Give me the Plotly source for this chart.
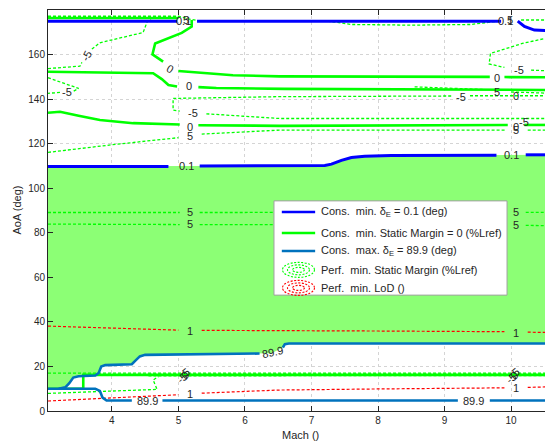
import plotly.graph_objects as go

N = None
# ---------------- data (Mach, AoA) ----------------
# Cons. min delta_E = 0.1 (deg)
dmin_top_M = [3.04, 4.98, N, 5.28, 9.85, N, 10.1, 10.2, 10.35, 10.63]
dmin_top_A = [175.0, 175.0, N, 175.0, 175.0, N, 175.0, 172.6, 171.0, 170.6]
dmin_low_M = [3.04, 4.85, N, 5.32, 7.2, 7.3, 7.45, 7.6, 7.8, 8.2, 9.78, N, 10.22, 10.63]
dmin_low_A = [109.8, 109.8, N, 110.0, 110.2, 110.8, 112.5, 113.8, 114.4, 114.7, 114.8, N, 115.0, 115.0]
dmin_labels = [(5.12, 110.0, "0.1", 0), (10.0, 114.9, "0.1", 0)]

# Cons. max delta_E = 89.9 (deg)
dmax_up_M = [3.2, 3.3, 3.36, 3.42, 3.5, 3.75, 3.8, 3.84, 3.9, 4.3, 4.35, 4.42, 4.5, 6.22, N, 6.57, 6.6, 6.66, 10.63]
dmax_up_A = [10.0, 10.6, 12.5, 15.0, 15.6, 15.9, 17.0, 20.0, 20.6, 21.0, 22.5, 24.5, 25.2, 25.8, N, 28.5, 30.0, 30.3, 30.3]
dmax_lo_M = [3.04, 3.75, 3.82, 3.86, 3.92, 4.3, N, 4.76, 9.2, N, 9.68, 10.63]
dmax_lo_A = [10.0, 10.0, 9.0, 6.0, 4.7, 4.7, N, 4.7, 4.7, N, 4.7, 4.7]
dmax_labels = [(4.53, 4.7, "89.9", 0), (9.44, 4.7, "89.9", 0), (6.42, 26.6, "89.9", -12)]

# Cons. min Static Margin = 0 (%Lref)
sm0_a_M = [3.04, 5.0]
sm0_a_A = [176.4, 176.4]
sm0_b_M = [5.2, 5.2, 5.05, 4.65, 4.61, 4.77, N, 5.0, 5.12, 5.82, 6.52, 9.68, N, 9.9, 10.63]
sm0_b_A = [175.5, 172.6, 169.7, 165.0, 160.1, 156.8, N, 152.6, 152.3, 150.7, 150.2, 150.0, N, 149.9, 149.8]
sm0_c_M = [3.04, 4.62, 4.75, 4.85, 4.98, N, 5.3, 5.57, 6.6, 8.0, 10.63]
sm0_c_A = [152.3, 151.6, 149.0, 146.3, 145.7, N, 145.4, 145.0, 144.6, 144.4, 144.1]
sm0_d_M = [3.04, 3.22, 3.5, 3.82, 4.32, 5.02, N, 5.3, 6.52, 9.95, N, 10.2, 10.63]
sm0_d_A = [133.9, 134.3, 132.5, 130.6, 129.2, 128.6, N, 128.3, 128.0, 128.4, N, 128.4, 128.4]
sm0_e_M = [10.63, 3.57, 3.57, 3.04]
sm0_e_A = [16.2, 16.2, 10.0, 10.0]
sm0_labels = [(4.88, 153.4, "0", 30), (5.16, 146.0, "0", 0), (5.17, 127.3, "0", 0),
              (9.79, 149.7, "0", 0), (10.07, 141.6, "0", 0), (10.07, 127.6, "0", 0)]

# Perf. min. Static Margin (%Lref) contours
psm_M = [
    [3.04, 5.0, 5.15, 5.3, 7.2, 7.6, 8.5, 9.4, 9.8, N, 10.15, 10.63],
    [3.04, 3.52, 3.55, N, 3.7, 3.82, 4.47, 4.53, 4.6],
    [3.04, 3.5, 3.42, N, 3.22, 3.04],
    [10.63, 9.38, N, 9.1, 6.52, 4.92, 4.92, 5.02, N, 5.42, 6.52, 10.63],
    [8.55, 9.6, N, 10.0, 10.63],
    [3.04, 4.0, 5.0, N, 5.35, 6.52, 9.92, N, 10.25, 10.63],
    [10.63, 10.17, 9.69, 9.67, 9.9, N, 10.3, 10.63],
    [3.04, 5.02, N, 5.32, 9.92, N, 10.22, 10.63],
    [3.04, 5.02, N, 5.32, 9.92, N, 10.22, 10.63],
    [3.04, 10.63],
    [4.55, 10.63],
    [4.55, 10.63],
    [3.04, 4.68, 4.62, 4.7],
]
psm_A = [
    [177.2, 177.2, 176.0, 175.2, 175.2, 173.5, 173.2, 173.5, 175.0, N, 175.5, 175.5],
    [153.7, 154.8, 156.5, N, 162.5, 165.3, 169.9, 174.7, 176.5],
    [149.6, 144.8, 143.5, N, 143.0, 142.6],
    [141.5, 141.5, N, 141.4, 141.1, 140.3, 135.1, 134.6, N, 133.4, 131.3, 131.3],
    [145.5, 144.3, N, 143.2, 142.6],
    [116.1, 119.5, 122.7, N, 124.3, 126.1, 126.1, N, 126.1, 126.1],
    [168.0, 165.0, 160.5, 155.8, 154.2, N, 153.0, 152.6],
    [89.1, 89.1, N, 89.1, 89.2, N, 89.2, 89.2],
    [83.9, 83.7, N, 83.7, 83.4, N, 83.3, 83.2],
    [17.0, 17.0],
    [16.5, 16.6],
    [15.8, 15.9],
    [7.9, 9.7, 13.9, 15.5],
]
psm_labels = [(3.62, 159.3, "-5", -62), (3.32, 143.2, "-5", 0), (5.22, 133.8, "-5", 0),
              (9.24, 141.0, "-5", 0), (9.79, 143.3, "5", 0), (10.12, 153.2, "-5", 0),
              (10.2, 129.6, "-5", 0), (5.17, 123.6, "5", 0), (10.07, 126.2, "5", 0),
              (5.17, 89.4, "5", 0), (5.17, 84.0, "5", 0), (10.07, 89.3, "5", 0),
              (10.07, 83.3, "5", 0),
              (5.12, 17.4, "5", -40), (5.1, 16.2, "0", -40), (5.05, 15.0, "-5", -40),
              (10.07, 17.4, "5", -40), (10.05, 16.2, "0", -40), (10.0, 15.0, "-5", -40),
              (5.12, 175.3, "5", 0), (9.98, 175.3, "5", 0)]
top_labels = [(5.08, 175.2, "0.1", 0), (9.92, 175.2, "0.1", 0)]

# Perf. min. LoD () contours
lod_M = [[3.04, 4.0, 5.0, N, 5.35, 6.5, 8.0, 9.9, N, 10.25, 10.63],
         [3.04, 4.0, 5.0, N, 5.35, 6.5, 8.0, 9.9, N, 10.25, 10.63]]
lod_A = [[38.1, 37.2, 36.3, N, 36.2, 36.2, 35.9, 35.6, N, 35.4, 35.2],
         [4.5, 6.0, 7.3, N, 8.0, 9.4, 9.9, 10.4, N, 10.6, 10.9]]
lod_labels = [(5.17, 35.8, "1", 0), (10.07, 35.2, "1", 0), (5.17, 7.6, "1", 0), (10.07, 10.2, "1", 0)]

# Feasible region (between min-delta 0.1 and max-delta 89.9 boundaries)
feas_top_M = [3.04, 7.2, 7.3, 7.45, 7.6, 7.8, 8.2, 10.63]
feas_top_A = [109.8, 110.2, 110.8, 112.5, 113.8, 114.4, 114.7, 115.0]
feas_bot_M = [10.63, 6.66, 6.6, 6.57, 6.4, 4.5, 4.42, 4.35, 4.3, 3.9, 3.84, 3.8, 3.75, 3.5, 3.42, 3.36, 3.3, 3.2, 3.04]
feas_bot_A = [30.3, 30.3, 30.0, 28.5, 25.9, 25.2, 24.5, 22.5, 21.0, 20.6, 20.0, 17.0, 15.9, 15.6, 15.0, 12.5, 10.6, 10.0, 10.0]

x_ticks = [4, 5, 6, 7, 8, 9, 10]
y_ticks = [0, 20, 40, 60, 80, 100, 120, 140, 160, 180]

# ---------------- figure ----------------
FONT = "Arial, 'Liberation Sans', Helvetica, sans-serif"
GREEN = "#00FF00"
BLUE = "#0000FF"
MBLUE = "#0072BD"
RED = "#FF0000"
FILL = "#8CFF75"
TXT = "#262626"

fig = go.Figure()
fig.add_trace(go.Scatter(x=feas_top_M + feas_bot_M, y=feas_top_A + feas_bot_A, mode="lines",
                         fill="toself", fillcolor=FILL, line=dict(width=0), hoverinfo="skip"))

for mx, ay in zip(lod_M, lod_A):
    fig.add_trace(go.Scatter(x=mx, y=ay, mode="lines", line=dict(color=RED, width=1.2, dash="3px,2px")))
for mx, ay in zip(psm_M, psm_A):
    fig.add_trace(go.Scatter(x=mx, y=ay, mode="lines", line=dict(color=GREEN, width=1.3, dash="3px,2px")))
for mx, ay in [(sm0_a_M, sm0_a_A), (sm0_b_M, sm0_b_A), (sm0_c_M, sm0_c_A), (sm0_d_M, sm0_d_A), (sm0_e_M, sm0_e_A)]:
    fig.add_trace(go.Scatter(x=mx, y=ay, mode="lines", line=dict(color=GREEN, width=2.6)))
for mx, ay in [(dmax_up_M, dmax_up_A), (dmax_lo_M, dmax_lo_A)]:
    fig.add_trace(go.Scatter(x=mx, y=ay, mode="lines", line=dict(color=MBLUE, width=2.6)))
for mx, ay in [(dmin_top_M, dmin_top_A), (dmin_low_M, dmin_low_A)]:
    fig.add_trace(go.Scatter(x=mx, y=ay, mode="lines", line=dict(color=BLUE, width=3)))

annotations = []
for lst in (dmin_labels, dmax_labels, sm0_labels, psm_labels, lod_labels, top_labels):
    for (mx, ay, t, ang) in lst:
        annotations.append(dict(x=mx, y=ay, xref="x", yref="y", text=t, showarrow=False,
                                textangle=ang, font=dict(family=FONT, size=11, color=TXT)))

# axis titles
annotations.append(dict(x=0.5, y=0.0, xref="paper", yref="paper", yshift=-24, text="Mach ()",
                        showarrow=False, font=dict(family=FONT, size=11, color=TXT), yanchor="middle"))
annotations.append(dict(x=0, y=0.5, xref="paper", yref="paper", xshift=-32, text="AoA (deg)",
                        showarrow=False, textangle=-90, font=dict(family=FONT, size=11, color=TXT),
                        xanchor="center"))

# manual legend
shapes = []
lx0, lx1, ly0, ly1 = 0.4475, 0.909, 0.289, 0.524
shapes.append(dict(type="rect", xref="paper", yref="paper", x0=lx0, x1=lx1, y0=ly0, y1=ly1,
                   fillcolor="white", line=dict(color="#a0a0a0", width=1), layer="above"))
rows = [0.496, 0.444, 0.399, 0.352, 0.307]
leg_text = ["Cons.\u00a0 min. δ<sub>E</sub> = 0.1 (deg)",
            "Cons.\u00a0 min. Static Margin = 0 (%Lref)",
            "Cons.\u00a0 max. δ<sub>E</sub> = 89.9 (deg)",
            "Perf.\u00a0 min. Static Margin (%Lref)",
            "Perf.\u00a0 min. LoD ()"]
sx0, sx1 = 0.463, 0.529
for yy, col in zip(rows[:3], [BLUE, GREEN, MBLUE]):
    shapes.append(dict(type="line", xref="paper", yref="paper", x0=sx0, x1=sx1, y0=yy, y1=yy,
                       line=dict(color=col, width=2.5), layer="above"))
pw, ph = 505.0, 401.0
cx = (sx0 + sx1) / 2
for yy, col in zip(rows[3:], [GREEN, RED]):
    for rx, ry in [(16, 7.5), (11, 5), (6, 2.5)]:
        shapes.append(dict(type="circle", xref="paper", yref="paper",
                           x0=cx - rx / pw, x1=cx + rx / pw, y0=yy - ry / ph, y1=yy + ry / ph,
                           line=dict(color=col, width=1.1, dash="2px,1.5px"), layer="above"))
for yy, t in zip(rows, leg_text):
    annotations.append(dict(x=0.536, y=yy, xref="paper", yref="paper", text=t, showarrow=False,
                            xanchor="left", yanchor="middle", font=dict(family=FONT, size=11, color=TXT)))

axis_common = dict(ticks="inside", ticklen=5, tickcolor=TXT, showline=True, linecolor=TXT,
                   linewidth=1, mirror="ticks", showgrid=True, gridcolor="#d4d4d4", griddash="dot",
                   gridwidth=1, zeroline=False, tickfont=dict(family=FONT, size=10, color=TXT))
# the page body has an 8px margin, so the figure is 8px smaller and margins compensate
fig.update_layout(
    width=545, height=434, margin=dict(l=40, r=0, t=2, b=31),
    paper_bgcolor="white", plot_bgcolor="white", showlegend=False,
    xaxis=dict(range=[3.04, 10.63], tickvals=x_ticks, **axis_common),
    yaxis=dict(range=[0, 180], tickvals=y_ticks, **axis_common),
    annotations=annotations, shapes=shapes,
)
fig.write_html("out.html")
